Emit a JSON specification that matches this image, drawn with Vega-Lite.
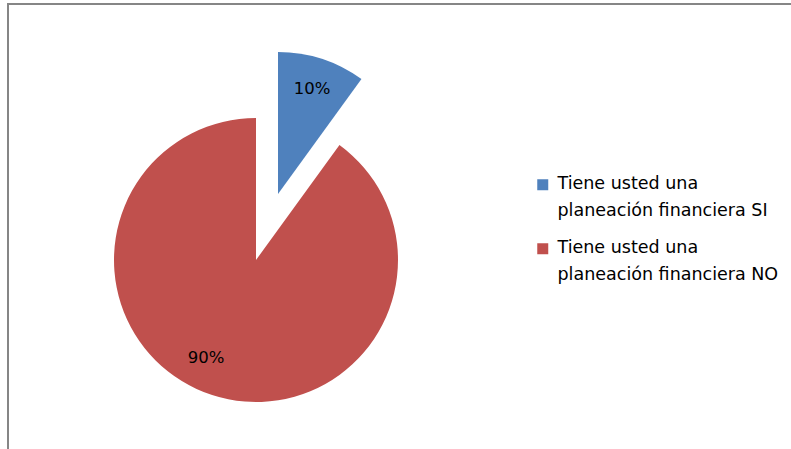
{
  "$schema": "https://vega.github.io/schema/vega-lite/v6.json",
  "width": 800,
  "height": 450,
  "autosize": "none",
  "padding": {"left": 8, "top": 4, "right": 0, "bottom": 0},
  "view": {"stroke": "#868686", "strokeWidth": 2},
  "config": {
    "view": {"stroke": "#868686", "strokeWidth": 2},
    "font": "DejaVu Sans",
    "style": {"guide-label": {"lineHeight": 27, "dy": -10}}
  },
  "data": {
    "values": [
      {"categoria": "Tiene usted una planeación financiera SI", "porcentaje": 10, "etiqueta": "10%"},
      {"categoria": "Tiene usted una planeación financiera NO", "porcentaje": 90, "etiqueta": "90%"}
    ]
  },
  "encoding": {
    "theta": {"field": "porcentaje", "type": "quantitative", "stack": true},
    "order": {"field": "porcentaje", "type": "quantitative"}
  },
  "layer": [
    {
      "mark": {"type": "arc", "outerRadius": 142, "x": 248, "y": 256},
      "encoding": {
        "color": {
          "field": "categoria", "type": "nominal",
          "scale": {"domain": ["Tiene usted una planeación financiera SI", "Tiene usted una planeación financiera NO"], "range": ["#4F81BD", "#C0504D"]},
          "legend": {
            "title": null,
            "orient": "none",
            "legendX": 526,
            "legendY": 172,
            "padding": 0,
            "symbolType": "square",
            "symbolSize": 121,
            "symbolStrokeWidth": 0,
            "labelFont": "DejaVu Sans",
            "labelFontSize": 17.5,
            "labelColor": "#000000",
            "labelLimit": 300,
            "labelOffset": 6,
            "rowPadding": 18,
            "labelBaseline": "top",
            "labelExpr": "[slice(datum.label, 0, 15), slice(datum.label, 16)]"
          }
        },
        "opacity": {"condition": {"test": "datum.porcentaje == 10", "value": 0}, "value": 1}
      }
    },
    {
      "mark": {"type": "arc", "outerRadius": 142, "x": 248, "y": 256, "xOffset": 22, "yOffset": -66},
      "encoding": {
        "color": {"field": "categoria", "type": "nominal"},
        "opacity": {"condition": {"test": "datum.porcentaje == 90", "value": 0}, "value": 1}
      }
    },
    {
      "mark": {"type": "text", "radius": 110, "x": 248, "y": 256, "dx": -16, "dy": -7, "fontSize": 16.5, "font": "DejaVu Sans", "color": "#000000"},
      "encoding": {
        "text": {"field": "etiqueta"},
        "opacity": {"condition": {"test": "datum.porcentaje == 10", "value": 0}, "value": 1}
      }
    },
    {
      "mark": {"type": "text", "radius": 110, "x": 248, "y": 256, "xOffset": 22, "yOffset": -66, "fontSize": 16.5, "font": "DejaVu Sans", "color": "#000000"},
      "encoding": {
        "text": {"field": "etiqueta"},
        "opacity": {"condition": {"test": "datum.porcentaje == 90", "value": 0}, "value": 1}
      }
    }
  ]
}
